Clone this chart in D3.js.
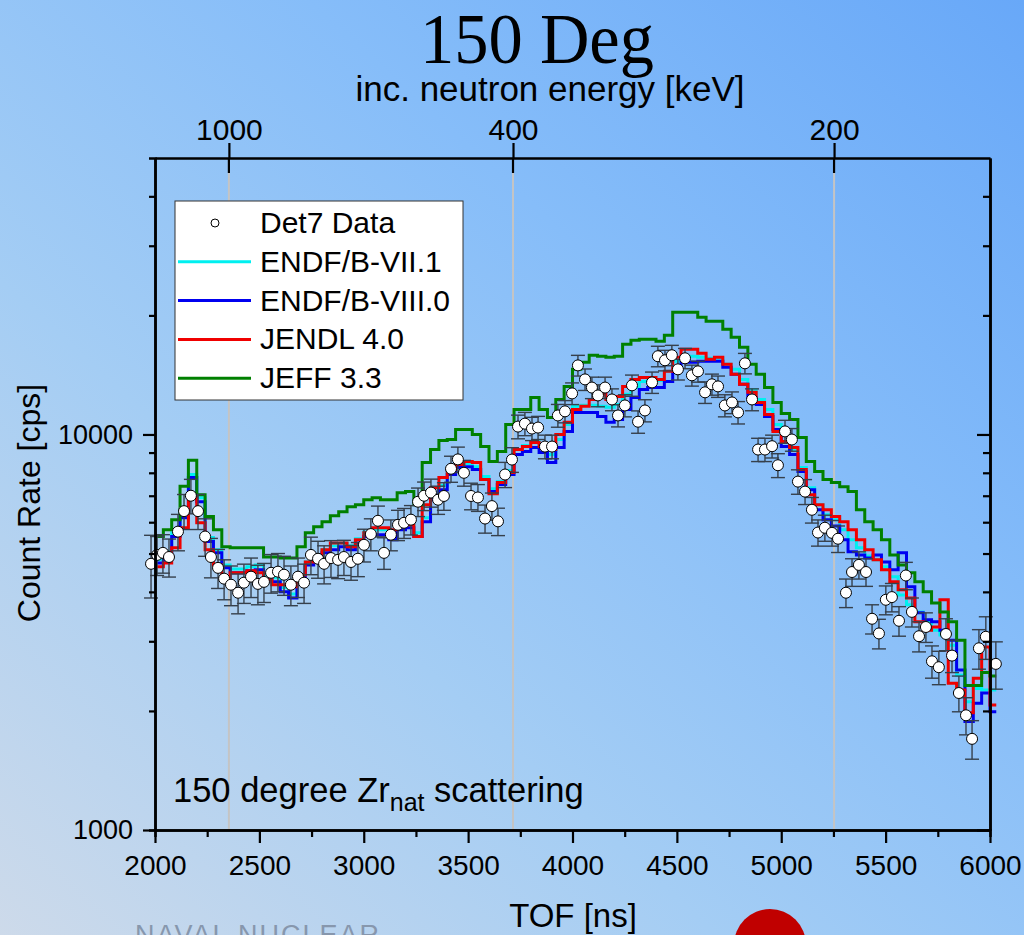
<!DOCTYPE html>
<html>
<head>
<meta charset="utf-8">
<script src="https://cdn.jsdelivr.net/npm/d3@7"></script>
<style>
body { margin: 0; }
text { font-family: "Liberation Sans", Arial, sans-serif; }
</style>
</head>
<body>
<div id="chart"></div>
<script>
// TOF bins (ns) - 40 ns wide, last one runs a bit past 6000
var binStart = d3.range(2000, 6040, 40);
var lastEdge = 6030;

var endf71 = [4820,5050,5640,6380,7920,6920,5490,5110,4680,4570,
  4570,4630,4680,4420,4340,4100,3950,4420,4760,4930,
  5110,5230,5320,5230,5450,5670,5740,5740,5580,5870,
  5950,5640,6160,7000,7430,8060,8390,8440,8290,7830,
  7290,7600,8110,9160,9380,9600,9320,8900,9710,10600,
  11780,11850,11850,11780,11710,11910,12630,13150,13620,13700,
  13700,14440,15310,15680,15770,15680,15580,15580,15040,14610,
  13780,13000,12260,11570,10600,9600,9160,8250,7330,6640,
  6270,6090,5740,5420,5170,4930,4820,4630,4370,3930,
  3710,3560,3360,3200,3110,2930,2460,2110,2280,2260,
  2260];

var endf80 = [4730,4960,5520,6160,7780,6760,5360,5020,4600,4470,
  4470,4520,4550,4290,4240,4000,3860,4290,4680,4820,
  5020,5110,5200,5110,5320,5520,5580,5580,5420,5740,
  5810,5520,6020,6840,7250,7920,8250,8290,8150,7690,
  7170,7470,7920,8900,9050,9270,9000,8490,9270,10180,
  11370,11370,11370,11110,10730,10910,11570,12410,13000,13150,
  13150,13620,14440,15220,15220,15310,15310,15310,14780,14190,
  13390,12410,11910,11110,10290,9320,8900,8060,7250,6450,
  6090,5870,5420,5050,4960,4870,4960,4760,4550,5020,
  4120,3540,3400,3360,3200,3020,2540,1880,2090,2220,
  1990];

var jendl40 = [4630,4730,5170,5810,6920,5980,5110,4680,4370,4470,
  4470,4520,4470,4290,4170,4170,4120,4420,4760,4900,
  5110,5320,5320,5200,5420,5640,5810,5810,5740,5910,
  5910,5520,6640,7330,7780,8150,8390,8540,8490,7690,
  7080,7560,8010,9160,9320,9540,9320,9160,10000,10730,
  11570,11780,12260,12630,12260,12470,13230,13780,13940,13940,
  13780,14440,15680,16420,16420,16040,15490,15680,15040,14190,
  13390,12780,12050,11240,10180,9600,9270,8150,7040,6640,
  6450,6200,6020,5740,5420,5110,4820,4550,4240,4050,
  3860,3360,3200,3260,3820,2350,2260,1980,2420,2900,
  2070];

var jeff33 = [5520,5740,6090,7400,8600,7040,6200,5740,5200,5170,
  5170,5170,5170,4900,4900,4870,4870,5200,5640,5840,
  6020,6230,6380,6570,6640,6840,6920,6840,6840,7120,
  7170,6640,8490,9160,9650,9710,10290,10290,10000,9320,
  8540,9050,10600,11570,11570,12410,11570,11040,12260,13230,
  14610,15220,15860,15770,15680,15770,16900,17300,17400,17400,
  17200,17810,20370,20370,20370,19780,19330,19330,18440,17600,
  16610,15040,14190,13150,12050,11300,10910,9830,8540,8060,
  7690,7560,7380,7170,6450,6020,5740,5420,4960,4680,
  4470,4240,4000,3750,3560,3360,3020,2320,2320,2500,
  2450];

// Det7 measured points
var dataTof = [1981,2010,2038,2067,2110,2139,2172,2206,2240,2268,
  2302,2331,2364,2398,2426,2460,2493,2522,2556,2589,
  2618,2651,2685,2714,2747,2781,2810,2843,2877,2905,
  2939,2972,3001,3034,3068,3097,3130,3164,3193,3226,
  3260,3289,3322,3356,3384,3418,3451,3480,3514,3547,
  3581,3614,3643,3677,3710,3739,3772,3806,3835,3868,
  3902,3930,3964,3998,4026,4060,4093,4122,4156,4189,
  4218,4251,4285,4314,4347,4381,4409,4443,4476,4505,
  4539,4572,4601,4635,4668,4697,4730,4764,4793,4826,
  4860,4889,4922,4956,4984,5018,5051,5080,5114,5147,
  5176,5209,5243,5272,5310,5339,5372,5406,5435,5468,
  5501,5530,5564,5597,5626,5660,5693,5722,5755,5789,
  5818,5851,5885,5914,5947,5980,6028];
var dataRate = [4710,4960,5020,4900,5680,6400,7000,6400,5520,4900,
  4600,4320,4170,3980,4220,4370,4190,4240,4470,4500,
  4420,4170,4370,4220,4960,4850,4710,4870,4820,4900,
  4760,4850,5260,5600,6050,5020,5580,5910,5980,6090,
  6760,7000,7130,6840,6990,8190,8650,8000,6990,6930,
  6130,6590,6030,7920,8640,10470,10650,10350,10410,9320,
  9320,11170,11440,12700,14950,13780,13140,12550,13140,12260,
  11170,11840,13310,10770,11500,13540,15770,15400,15860,14610,
  15580,14110,14440,12780,13390,13230,11840,12050,11370,15130,
  12260,9160,9160,9340,8360,10180,9710,7600,7170,6450,
  5650,5810,5640,5450,3980,4490,4680,4490,3420,3140,
  3820,3880,3380,4400,3560,3090,3260,2670,2580,3130,
  2760,2220,1950,1700,2880,3080,2630];
var dataErr = [850,560,560,540,600,650,700,650,600,560,
  520,500,480,460,480,500,480,480,500,500,
  500,480,500,480,540,520,520,520,500,500,
  480,480,500,520,540,460,500,520,520,520,
  560,580,580,560,560,620,640,600,540,540,
  500,520,480,580,620,720,720,700,700,640,
  640,740,740,800,900,860,820,800,820,780,
  720,760,820,700,740,840,940,920,940,880,
  920,860,880,800,820,820,760,760,740,900,
  780,620,620,620,580,680,640,540,520,480,
  430,440,420,420,330,360,370,360,290,270,
  320,320,290,350,300,270,280,250,250,290,
  260,230,210,190,330,380,360];

// top axis: incident neutron energy (keV) and where it falls in TOF
var energyTicks = [1000, 400, 200];
var energyTof = [2354, 3715, 5253];

var seriesNames = ["ENDF/B-VII.1", "ENDF/B-VIII.0", "JENDL 4.0", "JEFF 3.3"];
var seriesColors = ["#00f0f0", "#0000f0", "#f00000", "#008000"];
var seriesValues = [endf71, endf80, jendl40, jeff33];

var margin = {top: 158, left: 155},
    width = 835,
    height = 672;

var svg = d3.select("#chart").append("svg")
  .attr("width", 1024)
  .attr("height", 935);

// background gradient
var grad = svg.append("defs").append("linearGradient")
  .attr("id", "bg").attr("x1", 0).attr("y1", 1).attr("x2", 1).attr("y2", 0);
grad.append("stop").attr("offset", 0).attr("stop-color", "#cddaea");
grad.append("stop").attr("offset", 0.35).attr("stop-color", "#a4cdf4");
grad.append("stop").attr("offset", 0.65).attr("stop-color", "#86bdf9");
grad.append("stop").attr("offset", 1).attr("stop-color", "#68a8f8");
svg.append("rect").attr("width", 1024).attr("height", 935).attr("fill", "url(#bg)");

var g = svg.append("g")
  .attr("transform", "translate(" + margin.left + "," + margin.top + ")");

var x = d3.scaleLinear().domain([2000, 6000]).range([0, width]);
var y = d3.scaleLog().domain([1000, 50000]).range([height, 0]);

// energy gridlines
g.selectAll(".egrid")
  .data(energyTof)
  .enter().append("line")
    .attr("x1", d => x(d)).attr("x2", d => x(d))
    .attr("y1", 0).attr("y2", height)
    .attr("stroke", "#c4c4c4").attr("stroke-width", 2);

// model curves
var line = d3.line()
  .x(d => x(d[0]))
  .y(d => y(d[1]))
  .curve(d3.curveStepAfter);

seriesValues.forEach(function(vals, k) {
  var pts = binStart.map((t, i) => [t, vals[i]]);
  pts.push([lastEdge, vals[vals.length - 1]]);
  g.append("path")
    .datum(pts)
    .attr("fill", "none")
    .attr("stroke", seriesColors[k])
    .attr("stroke-width", 3)
    .attr("d", line);
});

// error bars
var eb = g.selectAll(".err")
  .data(dataTof)
  .enter().append("g")
    .attr("stroke", "#36404c").attr("stroke-width", 1.4);
eb.append("line")
  .attr("x1", d => x(d)).attr("x2", d => x(d))
  .attr("y1", (d, i) => y(dataRate[i] + dataErr[i]))
  .attr("y2", (d, i) => y(dataRate[i] - dataErr[i]));
eb.append("line")
  .attr("x1", d => x(d) - 7).attr("x2", d => x(d) + 7)
  .attr("y1", (d, i) => y(dataRate[i] + dataErr[i]))
  .attr("y2", (d, i) => y(dataRate[i] + dataErr[i]));
eb.append("line")
  .attr("x1", d => x(d) - 7).attr("x2", d => x(d) + 7)
  .attr("y1", (d, i) => y(dataRate[i] - dataErr[i]))
  .attr("y2", (d, i) => y(dataRate[i] - dataErr[i]));

// data points
g.selectAll(".pt")
  .data(dataTof)
  .enter().append("circle")
    .attr("cx", d => x(d))
    .attr("cy", (d, i) => y(dataRate[i]))
    .attr("r", 5.5)
    .attr("fill", "white")
    .attr("stroke", "black")
    .attr("stroke-width", 1);

// axes
function styleAxis(sel, fs) {
  sel.selectAll("path").attr("stroke", "black").attr("stroke-width", 2.5);
  sel.selectAll("line").attr("stroke", "black").attr("stroke-width", 2.2);
  sel.selectAll("text").attr("font-family", "'Liberation Sans', Arial, sans-serif")
    .attr("font-size", fs).attr("fill", "black");
}

var minorY = [2000,3000,4000,5000,6000,7000,8000,9000,20000,30000,40000];

g.append("g").attr("transform", "translate(0," + height + ")")
  .call(d3.axisBottom(x).tickValues(d3.range(2250, 6000, 500)).tickSize(7).tickFormat(""))
  .call(s => styleAxis(s, 28));
g.append("g").attr("transform", "translate(0," + height + ")")
  .call(d3.axisBottom(x).tickValues(d3.range(2000, 6001, 500)).tickSize(13).tickSizeOuter(0).tickPadding(12).tickFormat(d3.format("d")))
  .call(s => styleAxis(s, 28));

g.append("g")
  .call(d3.axisLeft(y).tickValues(minorY).tickSize(6).tickFormat(""))
  .call(s => styleAxis(s, 27));
g.append("g")
  .call(d3.axisLeft(y).tickValues([1000, 10000]).tickSize(12).tickSizeOuter(0).tickPadding(10).tickFormat(d3.format("d")))
  .call(s => styleAxis(s, 27));

g.append("g").attr("transform", "translate(" + width + ",0)")
  .call(d3.axisRight(y).tickValues(minorY).tickSize(-7).tickSizeOuter(0).tickFormat(""))
  .call(s => styleAxis(s, 27));
g.append("g").attr("transform", "translate(" + width + ",0)")
  .call(d3.axisRight(y).tickValues([1000, 10000]).tickSize(-13).tickSizeOuter(0).tickFormat(""))
  .call(s => styleAxis(s, 27));

g.append("g")
  .call(d3.axisTop(x).tickValues(energyTof).tickSize(15).tickSizeOuter(0).tickPadding(3)
    .tickFormat((d, i) => energyTicks[i]))
  .call(s => styleAxis(s, 30));
g.selectAll(".etick")
  .data(energyTof)
  .enter().append("line")
    .attr("x1", d => x(d)).attr("x2", d => x(d))
    .attr("y1", 0).attr("y2", 15)
    .attr("stroke", "black").attr("stroke-width", 2.2);

// legend
var leg = svg.append("g").attr("transform", "translate(175,201)");
leg.append("rect").attr("width", 288).attr("height", 199)
  .attr("fill", "white").attr("stroke", "#333").attr("stroke-width", 1);
var rowY = k => 22 + 38.8 * k;
leg.append("circle").attr("cx", 40).attr("cy", rowY(0)).attr("r", 4)
  .attr("fill", "white").attr("stroke", "black");
leg.append("text").attr("x", 85).attr("y", rowY(0) + 10).attr("font-size", 30).text("Det7 Data");
seriesNames.forEach(function(name, k) {
  leg.append("line").attr("x1", 3).attr("x2", 76)
    .attr("y1", rowY(k + 1)).attr("y2", rowY(k + 1))
    .attr("stroke", seriesColors[k]).attr("stroke-width", 3);
  leg.append("text").attr("x", 85).attr("y", rowY(k + 1) + 10)
    .attr("font-size", 30).text(name);
});

// annotation
var ann = svg.append("text").attr("x", 173).attr("y", 802).attr("font-size", 34.5);
ann.append("tspan").text("150 degree Zr");
ann.append("tspan").attr("font-size", 25).attr("dy", 9).text("nat");
ann.append("tspan").attr("dy", -9).text(" scattering");

// titles
svg.append("text").attr("x", 537).attr("y", 63).attr("text-anchor", "middle")
  .attr("font-family", "'Liberation Serif', 'Times New Roman', serif")
  .style("font-family", "'Liberation Serif', 'Times New Roman', serif")
  .attr("font-size", 72).attr("textLength", 234).attr("lengthAdjust", "spacingAndGlyphs")
  .text("150 Deg");
svg.append("text").attr("x", 550).attr("y", 101).attr("text-anchor", "middle")
  .attr("font-size", 35).text("inc. neutron energy [keV]");
svg.append("text").attr("x", 573).attr("y", 927).attr("text-anchor", "middle")
  .attr("font-size", 33).text("TOF [ns]");
svg.append("text").attr("transform", "translate(40,503) rotate(-90)")
  .attr("text-anchor", "middle").attr("font-size", 32).text("Count Rate [cps]");

// bits of the slide footer
svg.append("text").attr("x", 135).attr("y", 944).attr("font-size", 27)
  .attr("letter-spacing", 2).attr("fill", "#8797ad").text("NAVAL NUCLEAR");
svg.append("circle").attr("cx", 770).attr("cy", 945).attr("r", 36).attr("fill", "#c00000");
</script>
</body>
</html>
